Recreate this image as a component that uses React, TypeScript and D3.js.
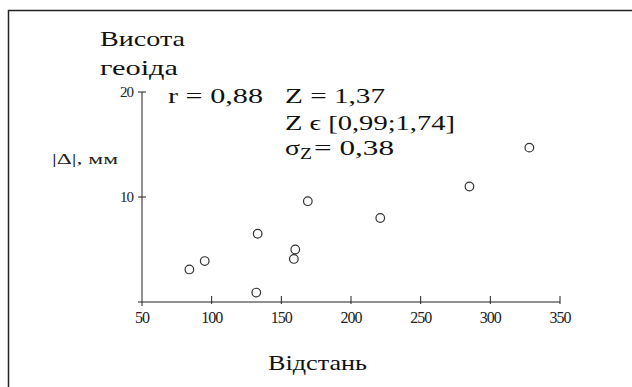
import React from 'react'
import * as d3 from 'd3'

// відстань (x) і |Δ| мм (y)
const distance = [84, 95, 132, 133, 159, 160, 169, 221, 285, 328]
const delta = [3.1, 3.9, 0.9, 6.5, 4.1, 5.0, 9.6, 8.0, 11.0, 14.7]
const xTicks = [50, 100, 150, 200, 250, 300, 350]
const yTicks = [10, 20]

const serif = "'Liberation Serif', 'Times New Roman', serif"

export default function App() {
  const x = d3.scaleLinear().domain([50, 350]).range([142, 560])
  const y = d3.scaleLinear().domain([0, 20]).range([302, 92])
  const fit = { lengthAdjust: 'spacingAndGlyphs' as const }

  return (
    <svg width={632} height={387}
      style={{ position: 'absolute', left: 0, top: 0, background: '#fff', fontFamily: serif }}>
      {/* frame: only top and left edges are in view */}
      <path d="M8.5,387 V10.5 H632" fill="none" stroke="#222" strokeWidth={1.5} />

      {/* axes */}
      <line x1={x(50) - 4} x2={x(350)} y1={y(0)} y2={y(0)} stroke="#222" />
      <line x1={x(50)} x2={x(50)} y1={y(20)} y2={y(0) + 4} stroke="#222" />
      {xTicks.slice(1).map(t => (
        <line key={t} x1={x(t)} x2={x(t)} y1={y(0) - 6} y2={y(0) + 2} stroke="#222" />
      ))}
      {yTicks.map(t => (
        <line key={t} x1={x(50) - 4} x2={x(50) + 4} y1={y(t)} y2={y(t)} stroke="#222" />
      ))}
      {xTicks.map(t => (
        <text key={t} x={x(t)} y={y(0) + 21} fontSize={16} textAnchor="middle" letterSpacing={-1}
          fill="#222">{t}</text>
      ))}
      {yTicks.map(t => (
        <text key={t} x={x(50) - 9} y={y(t) + 5} fontSize={15} textAnchor="end" letterSpacing={-1}
          fill="#222">{t}</text>
      ))}

      {/* points */}
      {distance.map((d, i) => (
        <circle key={i} cx={x(d)} cy={y(delta[i])} r={4.3} fill="none" stroke="#333" strokeWidth={1.2} />
      ))}

      {/* labels */}
      <text x={100} y={46} fontSize={22} fill="#111" textLength={85} {...fit}>Висота</text>
      <text x={100} y={75} fontSize={22} fill="#111" textLength={78} {...fit}>геоіда</text>
      <text x={52} y={164} fontSize={14} fill="#222" textLength={66} {...fit}>|Δ|, мм</text>
      <text x={268} y={370} fontSize={22} fill="#111" textLength={99} {...fit}>Відстань</text>

      <text x={168} y={103} fontSize={21} fill="#111" textLength={95} {...fit}>r = 0,88</text>
      <text x={285} y={103} fontSize={21} fill="#111" textLength={100} {...fit}>Z = 1,37</text>
      <text x={285} y={130} fontSize={21} fill="#111" textLength={170} {...fit}>Z ϵ [0,99;1,74]</text>
      <text x={285} y={155} fontSize={21} fill="#111">
        <tspan textLength={15} {...fit}>σ</tspan>
        <tspan fontSize={16} dy={4} textLength={12} {...fit}>Z</tspan>
        <tspan dy={-4} dx={2} textLength={80} {...fit}>= 0,38</tspan>
      </text>
    </svg>
  )
}
